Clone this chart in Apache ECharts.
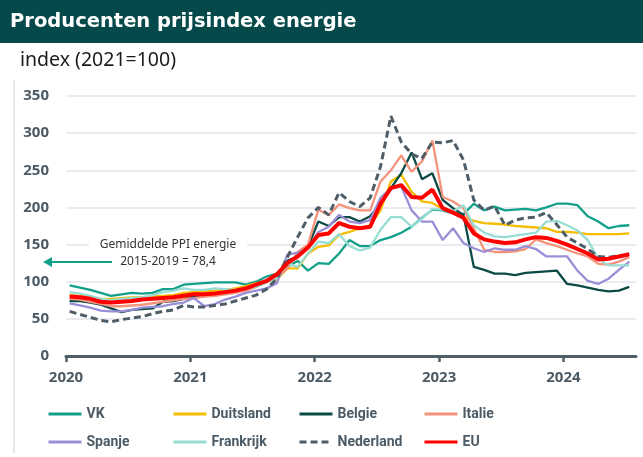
<!DOCTYPE html>
<html><head><meta charset="utf-8">
<script src="https://cdn.jsdelivr.net/npm/echarts@6/dist/echarts.min.js"></script>
<style>html,body{margin:0;padding:0;background:#fff}#c{width:643px;height:457px}</style>
</head><body><div id="c"></div>
<script>
// months from Jan 2020 to Jul 2024
const yearLabels = ['2020','2021','2022','2023','2024'];
const yearTickMonths = [0,12,24,36,48];
const yTicks = [0,50,100,150,200,250,300,350];
const seriesNames = ['VK','Duitsland','Belgie','Italie','Spanje','Frankrijk','Nederland','EU'];

const vk = [95,92,89,85,81,83,85,84,85,90,90,96, 97,98,99,99,99,96,100,107,111,120,128,115, 125,124,138,156,148,148,156,160,166,174,186,197, 196,192,191,205,196,201,196,197,198,196,200,205, 205,203,188,181,172,175,176];
const duitsland = [82,81,79,77,77,78,79,79,80,81,82,85, 86,87,88,89,91,94,98,100,103,118,118,138, 147,149,163,167,172,176,196,235,244,221,208,206, 198,194,187,182,179,178,177,175,174,173,172,167, 167,166,164,164,164,164,165];
const belgie = [74,74,72,69,64,59,62,63,64,73,74,77, 80,82,83,85,87,90,95,100,108,128,134,147, 181,175,187,187,181,188,205,226,246,274,238,246, 210,199,190,120,116,111,111,109,112,113,114,115, 97,95,92,89,87,88,93];
const italie = [77,76,73,70,67,67,68,69,71,73,75,77, 78,80,81,83,85,88,93,99,105,118,140,150, 197,190,204,199,196,196,235,250,270,248,262,290, 214,208,199,172,143,140,140,141,144,157,152,148, 143,138,134,124,123,127,133];
const spanje = [71,68,65,61,60,60,62,65,66,67,70,72, 78,67,70,76,80,85,88,91,98,136,139,145, 167,174,190,181,179,183,213,226,228,196,181,181, 156,172,152,145,140,145,143,143,148,144,134,134, 134,115,101,97,104,116,127];
const frankrijk = [86,84,81,77,75,77,78,79,82,86,88,91, 89,89,91,90,89,91,93,99,105,125,120,138, 154,152,164,148,142,146,170,187,187,174,185,198, 197,195,203,176,166,161,160,162,164,166,181,182, 176,169,156,131,122,122,122];
const nederland = [60,56,52,48,46,49,51,53,57,60,62,68, 66,66,68,70,74,78,82,90,104,133,160,186, 200,190,220,208,201,213,255,323,288,272,266,288, 287,290,264,210,196,202,176,183,186,187,193,177, 160,152,144,134,133,135,136];
const eu = [80,79,77,73,72,73,74,76,77,78,79,81, 83,83,84,86,88,91,96,101,110,125,134,146, 163,165,179,174,172,174,205,226,230,214,213,224, 199,193,186,165,157,154,152,153,157,160,159,155, 150,144,138,130,131,134,137];

const seriesValues = [vk,duitsland,belgie,italie,spanje,frankrijk,nederland,eu];
const colors = ['#12A08A','#F5BD00','#0B4A45','#F4937B','#9A8ED6','#98DDD3','#4E5D67','#FF0000'];
const monthPos = 0.35; // observation placed early in the month

const axisColor = '#4B5A64';
const labelFont = {color: axisColor, fontWeight: 'bold', fontSize: 15, fontFamily: 'Noto Sans'};

const series = seriesNames.map((name, k) => ({
  name,
  type: 'line',
  symbol: 'none',
  z: 2 + k,
  data: seriesValues[k].map((v, i) => [i + monthPos, v]),
  lineStyle: {
    color: colors[k],
    width: name === 'EU' ? 4 : (name === 'Nederland' ? 3 : 2.3),
    type: name === 'Nederland' ? [7, 4] : 'solid'
  },
  itemStyle: {color: colors[k]}
}));

const legendCols = [['VK','Spanje'],['Duitsland','Frankrijk'],['Belgie','Nederland'],['Italie','EU']];
const legendLeft = [47,172,298,423];
const legends = legendCols.map((d, c) => ({
  data: d, orient: 'vertical', left: legendLeft[c], top: 407, padding: 0,
  itemWidth: 33, itemHeight: 14, itemGap: 14, selectedMode: false,
  itemStyle: {opacity: 0},
  lineStyle: {width: 3},
  textStyle: {color: axisColor, fontWeight: 'bold', fontSize: 14, fontFamily: 'Roboto'}
}));

const chart = echarts.init(document.getElementById('c'), null, {renderer: 'canvas'});
chart.setOption({
  animation: false,
  backgroundColor: '#fff',
  grid: {left: 66, right: 7, top: 96, bottom: 101},
  legend: legends,
  xAxis: {
    type: 'value', min: 0, max: 55,
    axisLine: {show: true, lineStyle: {color: '#4F5E67', width: 3}},
    axisTick: {show: true, customValues: yearTickMonths, length: 6, lineStyle: {color: '#4F5E67', width: 2.5}},
    axisLabel: Object.assign({customValues: yearTickMonths, margin: 14,
      formatter: v => yearLabels[yearTickMonths.indexOf(v)] || ''}, labelFont),
    splitLine: {show: false}
  },
  yAxis: {
    type: 'value', min: yTicks[0], max: yTicks[yTicks.length-1], interval: 50,
    axisLine: {show: false}, axisTick: {show: false},
    axisLabel: Object.assign({margin: 17}, labelFont),
    splitLine: {lineStyle: {color: '#E2E5E8', width: 1.5}}
  },
  series,
  graphic: [
    {type: 'rect', shape: {x: 0, y: 0, width: 643, height: 43}, style: {fill: '#05494B'}, z: 10},
    {type: 'text', x: 10, y: 22, z: 11, style: {text: 'Producenten prijsindex energie', fill: '#fff',
      font: 'bold 19.5px "DejaVu Sans"', verticalAlign: 'middle'}},
    {type: 'text', x: 20, y: 60, z: 11, style: {text: 'index (2021=100)', fill: '#1a1a1a',
      font: '19.5px "Noto Sans"', verticalAlign: 'middle'}},
    {type: 'line', shape: {x1: 14, y1: 80, x2: 14, y2: 453}, style: {stroke: '#D0D0D0', lineWidth: 1}, z: 10},
    {type: 'text', x: 168, y: 245, z: 11, style: {text: 'Gemiddelde PPI energie', fill: '#333',
      font: '12px "Noto Sans"', align: 'center', verticalAlign: 'middle', backgroundColor: '#fff', padding: [2, 11]}},
    {type: 'text', x: 168, y: 262, z: 11, style: {text: '2015-2019 = 78,4', fill: '#333',
      font: '12px "Noto Sans"', align: 'center', verticalAlign: 'middle'}},
    {type: 'line', shape: {x1: 50, y1: 262, x2: 112, y2: 262}, style: {stroke: '#12A08A', lineWidth: 2}, z: 11},
    {type: 'polygon', shape: {points: [[43, 262], [52, 257], [52, 267]]}, style: {fill: '#12A08A'}, z: 11}
  ]
});
</script></body></html>
